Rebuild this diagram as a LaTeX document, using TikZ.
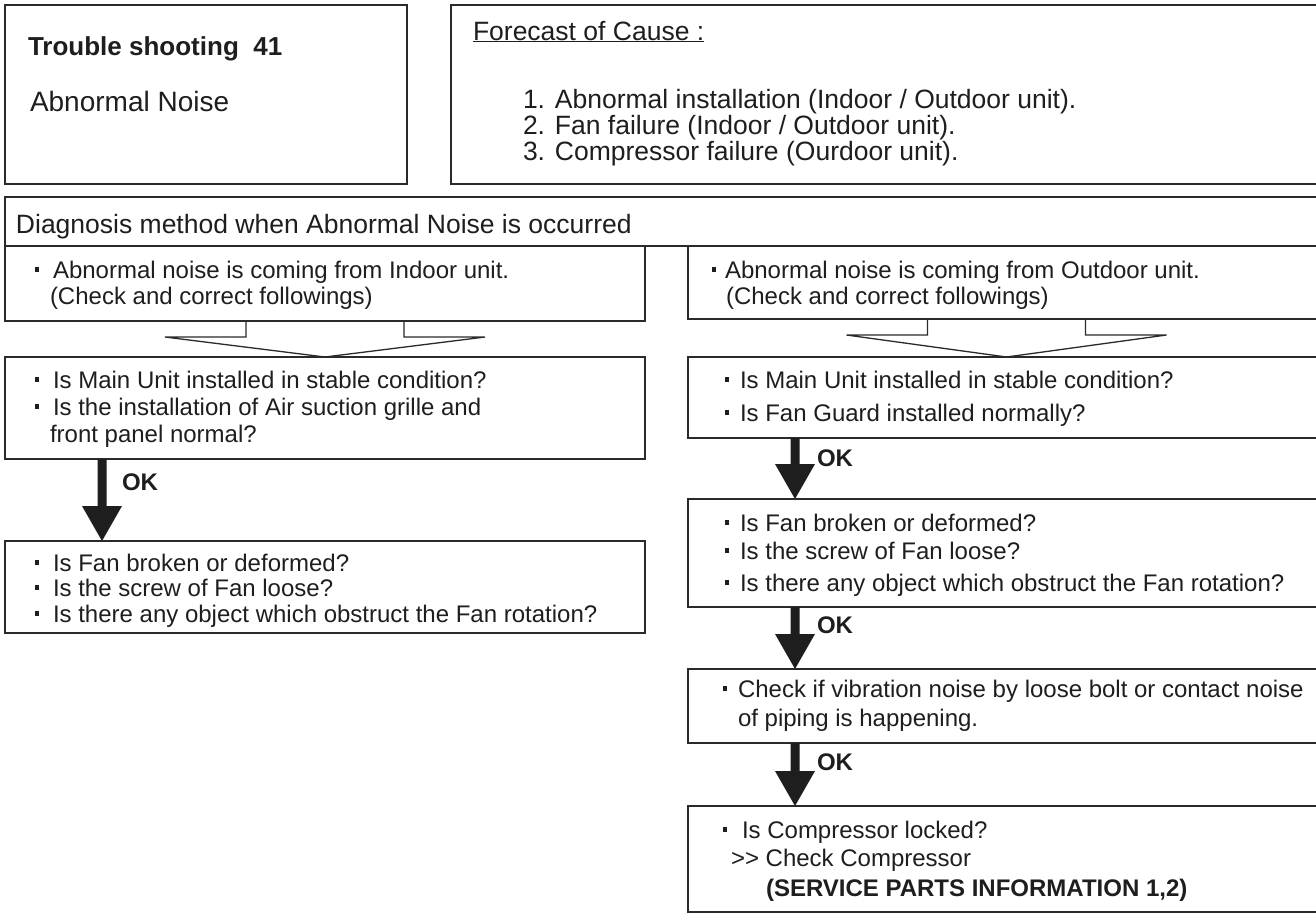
\documentclass[tikz,border=0pt]{standalone}
\usepackage{fontspec}
\setmainfont{Liberation Sans}
\usetikzlibrary{calc}
\definecolor{ink}{HTML}{1E1E1E}
\definecolor{lin}{HTML}{2A2A2A}
\newcommand\sqb{\rule[6pt]{4pt}{5pt}}
\newcommand\okarrow[3]{%
  \path (#1.south -| #3) coordinate (#1-a) (#2.north -| #3) coordinate (#2-b);
  \fill[arr] ($(#1-a)+(-4.5,0)$) -- ($(#2-b)+(-4.5,-35)$) -- ($(#2-b)+(-20,-35)$)
     -- (#2-b) -- ($(#2-b)+(20,-35)$) -- ($(#2-b)+(4.5,-35)$) -- ($(#1-a)+(4.5,0)$) -- cycle;}
\newcommand\funnel[2]{%
  \draw[fun] ($(#1.south)+(-79,0)$) -- ++(0,16) -- ++(-81,0) -- (#2.north)
     -- ($(#1.south)+(160,16)$) -- ++(-81,0) -- ++(0,-16);}
\tikzset{
  box/.style={draw=lin, line width=1.3pt, anchor=north west, inner sep=0pt, outer sep=0pt},
  txt/.style={anchor=base west, inner sep=0pt, outer sep=0pt, text=ink, font=\fontsize{24}{28}\selectfont},
  ttl/.style={txt, font=\fontsize{26.5}{31}\selectfont},
  okl/.style={txt, font=\bfseries\fontsize{24}{28}\selectfont},
  arr/.style={fill=ink},
  fun/.style={draw=lin, line width=1.3pt},
}
\begin{document}
\begin{tikzpicture}[x=1pt,y=-1pt]
\useasboundingbox[fill=white] (0,0) rectangle (1316,914);
% header boxes
\node[box, minimum width=402pt, minimum height=179pt] (T1) at (5,5) {};
\node[txt, font=\bfseries\fontsize{26}{30}\selectfont] (T1a) at (28,55) {Trouble shooting\ \ 41};
\node[txt, font=\fontsize{28}{32}\selectfont] (T1b) at (30,111) {Abnormal Noise};
\node[box, minimum width=874pt, minimum height=179pt] (T2) at (451,5) {};
\node[ttl] (T2a) at (473,40) {\underline{Forecast of Cause :}};
\node[ttl] (T2b) at (523,108) {1. Abnormal installation (Indoor / Outdoor unit).};
\node[ttl] (T2c) at (523,134) {2. Fan failure (Indoor / Outdoor unit).};
\node[ttl] (T2d) at (523,160) {3. Compressor failure (Ourdoor unit).};
% diagnosis row
\node[box, minimum width=1320pt, minimum height=49pt] (D) at (5,197) {};
\node[ttl] (Da) at (16,233) {Diagnosis method when Abnormal Noise is occurred};
% left column
\node[box, minimum width=640pt, minimum height=75pt] (L1) at (5,246) {};
\node[txt] (L1a) at (35,278) {\sqb\hspace{14pt}Abnormal noise is coming from Indoor unit.};
\node[txt] (L1b) at (50,304) {(Check and correct followings)};
\node[box, minimum width=640pt, minimum height=102pt] (L2) at (5,357) {};
\node[txt] (L2a) at (35,388) {\sqb\hspace{14pt}Is Main Unit installed in stable condition?};
\node[txt] (L2b) at (35,415) {\sqb\hspace{14pt}Is the installation of Air suction grille and};
\node[txt] (L2c) at (50,442) {front panel normal?};
\node[box, minimum width=640pt, minimum height=92pt] (L3) at (5,541) {};
\node[txt] (L3a) at (35,571) {\sqb\hspace{14pt}Is Fan broken or deformed?};
\node[txt] (L3b) at (35,596) {\sqb\hspace{14pt}Is the screw of Fan loose?};
\node[txt] (L3c) at (35,622) {\sqb\hspace{14pt}Is there any object which obstruct the Fan rotation?};
% right column
\node[box, minimum width=637pt, minimum height=73pt] (R1) at (688,246) {};
\node[txt] (R1a) at (712,278) {\sqb\hspace{9pt}Abnormal noise is coming from Outdoor unit.};
\node[txt] (R1b) at (726,304) {(Check and correct followings)};
\node[box, minimum width=637pt, minimum height=81pt] (R2) at (688,357) {};
\node[txt] (R2a) at (725,388) {\sqb\hspace{11pt}Is Main Unit installed in stable condition?};
\node[txt] (R2b) at (725,421) {\sqb\hspace{11pt}Is Fan Guard installed normally?};
\node[box, minimum width=637pt, minimum height=108pt] (R3) at (688,499) {};
\node[txt] (R3a) at (725,531) {\sqb\hspace{11pt}Is Fan broken or deformed?};
\node[txt] (R3b) at (725,559) {\sqb\hspace{11pt}Is the screw of Fan loose?};
\node[txt] (R3c) at (725,591) {\sqb\hspace{11pt}Is there any object which obstruct the Fan rotation?};
\node[box, minimum width=637pt, minimum height=74pt] (R4) at (688,669) {};
\node[txt] (R4a) at (723,697) {\sqb\hspace{11pt}Check if vibration noise by loose bolt or contact noise};
\node[txt] (R4b) at (738,726) {of piping is happening.};
\node[box, minimum width=637pt, minimum height=106pt] (R5) at (688,806) {};
\node[txt] (R5a) at (723,838) {\sqb\hspace{15pt}Is Compressor locked?};
\node[txt] (R5b) at (731,866) {>{}> Check Compressor};
\node[txt, font=\bfseries\fontsize{24}{28}\selectfont] (R5c) at (766,896) {(SERVICE PARTS INFORMATION 1,2)};
% connectors
\coordinate (xL) at (102,0);
\coordinate (xR) at (795,0);
\funnel{L1}{L2}
\funnel{R1}{R2}
\okarrow{L2}{L3}{xL}
\node[okl] (OK1) at (122,490) {OK};
\okarrow{R2}{R3}{xR}
\node[okl] (OK2) at (817,466) {OK};
\okarrow{R3}{R4}{xR}
\node[okl] (OK3) at (817,633) {OK};
\okarrow{R4}{R5}{xR}
\node[okl] (OK4) at (817,770) {OK};
\end{tikzpicture}
\end{document}
